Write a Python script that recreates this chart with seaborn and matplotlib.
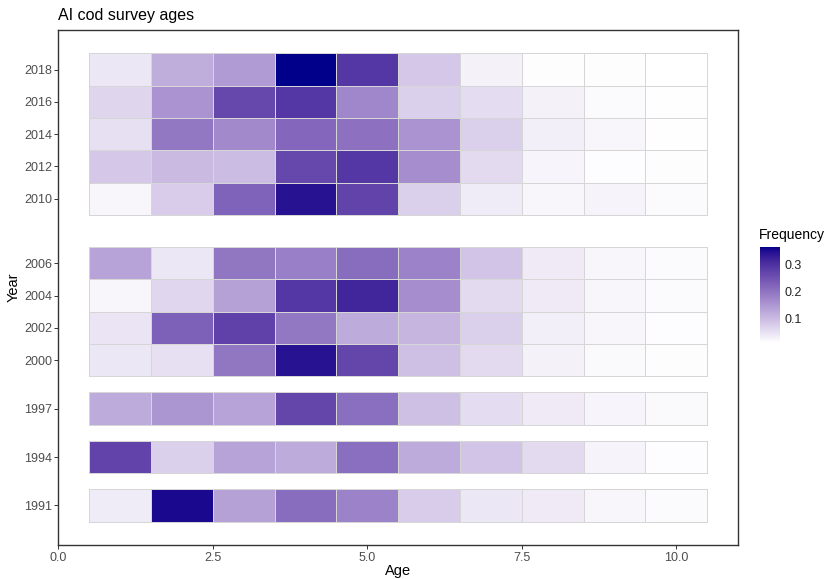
import numpy as np
import pandas as pd
import matplotlib
matplotlib.use("Agg")
import matplotlib.pyplot as plt
from matplotlib.colors import ListedColormap
import seaborn as sns

# --- data ---
years = [1991, 1994, 1997, 2000, 2002, 2004, 2006, 2010, 2012, 2014, 2016, 2018]
ages = [1, 2, 3, 4, 5, 6, 7, 8, 9, 10]

freq_1991 = [0.037, 0.352, 0.138, 0.212, 0.180, 0.079, 0.044, 0.040, 0.024, 0.019]
freq_1994 = [0.272, 0.075, 0.135, 0.124, 0.209, 0.124, 0.089, 0.061, 0.028, 0.017]
freq_1997 = [0.124, 0.152, 0.135, 0.268, 0.209, 0.096, 0.058, 0.040, 0.026, 0.021]
freq_2000 = [0.044, 0.054, 0.198, 0.342, 0.268, 0.096, 0.061, 0.031, 0.021, 0.016]
freq_2002 = [0.047, 0.230, 0.275, 0.195, 0.124, 0.110, 0.075, 0.033, 0.024, 0.017]
freq_2004 = [0.024, 0.065, 0.138, 0.289, 0.314, 0.163, 0.061, 0.040, 0.024, 0.019]
freq_2006 = [0.135, 0.044, 0.198, 0.184, 0.212, 0.180, 0.089, 0.040, 0.024, 0.019]
freq_2010 = [0.023, 0.079, 0.226, 0.342, 0.272, 0.075, 0.037, 0.023, 0.028, 0.019]
freq_2012 = [0.086, 0.103, 0.101, 0.265, 0.289, 0.163, 0.061, 0.026, 0.017, 0.016]
freq_2014 = [0.054, 0.195, 0.170, 0.219, 0.205, 0.156, 0.075, 0.033, 0.023, 0.014]
freq_2016 = [0.068, 0.156, 0.265, 0.289, 0.173, 0.075, 0.058, 0.030, 0.019, 0.014]
freq_2018 = [0.044, 0.121, 0.145, 0.363, 0.289, 0.086, 0.030, 0.016, 0.016, 0.012]

freq_rows = [freq_1991, freq_1994, freq_1997, freq_2000, freq_2002, freq_2004,
             freq_2006, freq_2010, freq_2012, freq_2014, freq_2016, freq_2018]

x_ticks = [0.0, 2.5, 5.0, 7.5, 10.0]
legend_ticks = [0.1, 0.2, 0.3]

records = []
for yr, row in zip(years, freq_rows):
    for age, f in zip(ages, row):
        records.append({"Year": yr, "Age": age, "Frequency": f})
df = pd.DataFrame(records)


# white -> darkblue gradient interpolated in CIELAB (like ggplot's scale_fill_gradient)
M = np.array([[0.4124564, 0.3575761, 0.1804375],
              [0.2126729, 0.7151522, 0.0721750],
              [0.0193339, 0.1191920, 0.9503041]])
WHITE = np.array([0.95047, 1.0, 1.08883])


def srgb_to_lab(rgb):
    c = np.asarray(rgb, float)
    lin = np.where(c <= 0.04045, c / 12.92, ((c + 0.055) / 1.055) ** 2.4)
    xyz = M @ lin / WHITE
    d = 6 / 29
    f = np.where(xyz > d ** 3, np.cbrt(xyz), xyz / (3 * d * d) + 4 / 29)
    return np.array([116 * f[1] - 16, 500 * (f[0] - f[1]), 200 * (f[1] - f[2])])


def lab_to_srgb(lab):
    L, a, b = lab
    fy = (L + 16) / 116
    f = np.array([fy + a / 500, fy, fy - b / 200])
    d = 6 / 29
    xyz = np.where(f > d, f ** 3, 3 * d * d * (f - 4 / 29)) * WHITE
    lin = np.clip(np.linalg.solve(M, xyz), 0, 1)
    c = np.where(lin <= 0.0031308, 12.92 * lin, 1.055 * lin ** (1 / 2.4) - 0.055)
    return np.clip(c, 0, 1)


lo = srgb_to_lab([1, 1, 1])
hi = srgb_to_lab(np.array([0, 0, 139]) / 255)
cmap = ListedColormap([lab_to_srgb(lo + t * (hi - lo)) for t in np.linspace(0, 1, 256)])

# --- plot ---
sns.set_theme(style="white")
plt.rcParams["font.family"] = ["Liberation Sans", "DejaVu Sans"]

fig = plt.figure(figsize=(8.27, 5.79), dpi=100)
ax = fig.add_axes([58.3 / 827, 1 - 545 / 579, (738 - 58.3) / 827, 515 / 579])
cax = fig.add_axes([760 / 827, 1 - 343 / 579, 20 / 827, 96 / 579])

vmin, vmax = df["Frequency"].min(), df["Frequency"].max()
age_edges = [a - 0.5 for a in ages] + [ages[-1] + 0.5]

for i, yr in enumerate(years):
    sub = df[df["Year"] == yr]
    sns.histplot(data=sub, x="Age", y="Year", weights="Frequency",
                 bins=[age_edges, [yr - 1, yr + 1]], cmap=cmap,
                 vmin=vmin, vmax=vmax, cbar=(i == 0),
                 cbar_ax=cax if i == 0 else None, ax=ax,
                 edgecolor="#D6D6D6", linewidth=0.5)

ax.set_xlim(0, 11)
ax.set_ylim(1988.55, 2020.45)
ax.set_xticks(x_ticks)
ax.set_xticklabels([f"{v:.1f}" for v in x_ticks])
ax.set_yticks(years)
ax.set_yticklabels([str(y) for y in years])
ax.tick_params(axis="both", which="major", length=3, width=0.7, color="#333333",
               labelsize=9, labelcolor="#4D4D4D", bottom=True, left=True)
ax.tick_params(axis="y", pad=1.5)
ax.tick_params(axis="x", pad=2)
for sp in ax.spines.values():
    sp.set_color("#333333")
    sp.set_linewidth(1.0)
ax.grid(False)

ax.set_xlabel("Age", fontsize=10.5, color="black")
ax.set_ylabel("Year", fontsize=10.5, color="black")
ax.xaxis.set_label_coords(0.5, -(564 - 545) / 515)
ax.yaxis.set_label_coords(-(58.3 - 21) / 680, 0.5)
ax.set_title("AI cod survey ages", loc="left", fontsize=11.5, color="black", pad=7)

# colorbar styled like a ggplot guide
cbar = ax.collections[0].colorbar
cbar.outline.set_visible(False)
cbar.set_ticks(legend_ticks)
cbar.set_ticklabels([f"{v:.1f}" for v in legend_ticks])
cax.tick_params(axis="y", which="major", left=True, right=True, labelleft=False,
                labelright=True, direction="in", length=3, width=0.8, color="white",
                labelsize=9, labelcolor="#222222", pad=3)
cax.tick_params(axis="y", which="minor", left=False, right=False)
fig.text(759 / 827, 1 - 235 / 579, "Frequency", ha="left", va="center",
         fontsize=10, color="black")

fig.savefig("out.png", dpi=100)
